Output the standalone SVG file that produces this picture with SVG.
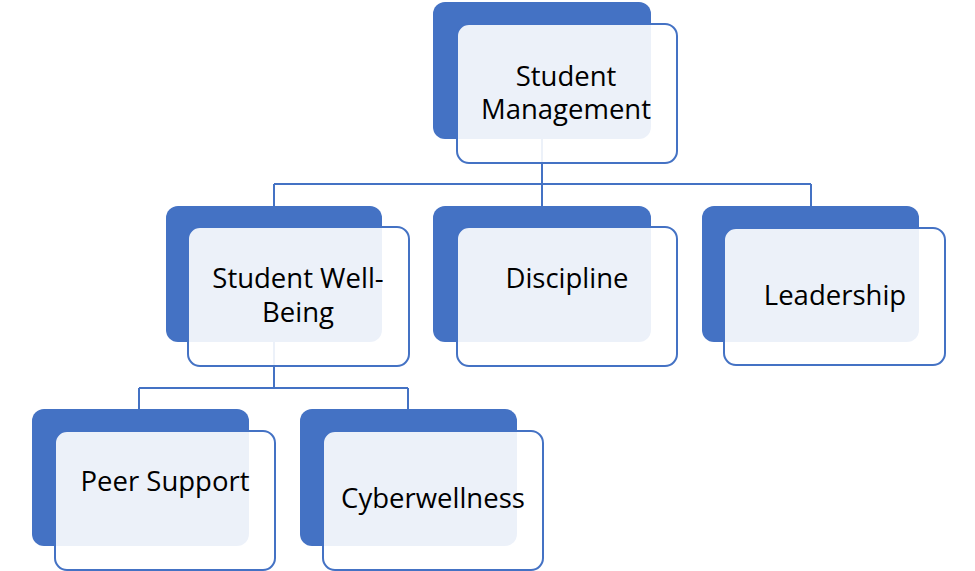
<svg xmlns="http://www.w3.org/2000/svg" width="975" height="571" viewBox="0 0 975 571">
<style>
.back{fill:#4472C4;}
.front{fill:#FFFFFF;fill-opacity:0.9;stroke:#4472C4;stroke-width:2;}
.conn{fill:none;stroke:#4472C4;stroke-width:2;}
.lbl{font-family:"Open Sans","Noto Sans","Liberation Sans",sans-serif;font-size:27.5px;fill:#000;text-anchor:middle;}
</style>
<rect width="975" height="571" fill="#FFFFFF"/>
<g id="connectors">
<path class="conn" d="M542,139 V184 M274,184 H811 M274,184 V206 M542,184 V206 M811,184 V206"/>
<path class="conn" d="M274,342 V388 M139,388 H408 M139,388 V409 M408,388 V409"/>
</g>
<g id="node-student-management">
<rect class="back" x="433" y="2" width="218" height="137" rx="12"/>
<rect class="front" x="457" y="24" width="220" height="139" rx="12"/>
<text class="lbl" x="566" y="86">Student</text>
<text class="lbl" x="566" y="119">Management</text>
</g>
<g id="node-student-well-being">
<rect class="back" x="166" y="206" width="216" height="136" rx="12"/>
<rect class="front" x="188" y="227" width="221" height="139" rx="12"/>
<text class="lbl" x="298" y="288">Student Well-</text>
<text class="lbl" x="298" y="322">Being</text>
</g>
<g id="node-discipline">
<rect class="back" x="433" y="206" width="218" height="136" rx="12"/>
<rect class="front" x="457" y="227" width="220" height="139" rx="12"/>
<text class="lbl" x="567" y="288">Discipline</text>
</g>
<g id="node-leadership">
<rect class="back" x="702" y="206" width="217" height="136" rx="12"/>
<rect class="front" x="724" y="228" width="221" height="137" rx="12"/>
<text class="lbl" x="835" y="305">Leadership</text>
</g>
<g id="node-peer-support">
<rect class="back" x="32" y="409" width="217" height="137" rx="12"/>
<rect class="front" x="55" y="431" width="220" height="139" rx="12"/>
<text class="lbl" x="165" y="491">Peer Support</text>
</g>
<g id="node-cyberwellness">
<rect class="back" x="300" y="409" width="217" height="137" rx="12"/>
<rect class="front" x="323" y="431" width="220" height="139" rx="12"/>
<text class="lbl" x="433" y="508">Cyberwellness</text>
</g>
</svg>
